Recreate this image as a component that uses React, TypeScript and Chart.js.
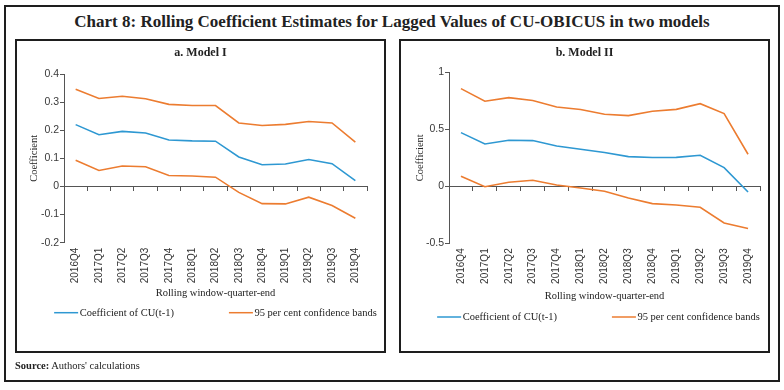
import React, { useEffect, useRef } from "react";
import { Chart, registerables } from "chart.js";
Chart.register(...registerables);

const quarters = [
  "2016Q4", "2017Q1", "2017Q2", "2017Q3", "2017Q4", "2018Q1", "2018Q2",
  "2018Q3", "2018Q4", "2019Q1", "2019Q2", "2019Q3", "2019Q4",
];

const model1Coef = [0.22, 0.184, 0.196, 0.19, 0.165, 0.162, 0.161, 0.105, 0.077, 0.08, 0.096, 0.081, 0.021];
const model1Upper = [0.346, 0.313, 0.321, 0.312, 0.292, 0.288, 0.288, 0.226, 0.217, 0.221, 0.231, 0.226, 0.158];
const model1Lower = [0.093, 0.057, 0.073, 0.07, 0.039, 0.037, 0.033, -0.021, -0.061, -0.062, -0.038, -0.068, -0.113];

const model2Coef = [0.471, 0.371, 0.404, 0.401, 0.354, 0.325, 0.296, 0.26, 0.252, 0.254, 0.272, 0.164, -0.05];
const model2Upper = [0.857, 0.746, 0.778, 0.752, 0.696, 0.673, 0.632, 0.62, 0.658, 0.675, 0.725, 0.638, 0.281];
const model2Lower = [0.088, -0.004, 0.035, 0.053, 0.011, -0.015, -0.044, -0.103, -0.152, -0.164, -0.184, -0.322, -0.371];

const model1Axis = { min: -0.2, max: 0.4, step: 0.1 };
const model2Axis = { min: -0.5, max: 1, step: 0.5 };

const coefLabel = "Coefficient of CU(t-1)";
const bandLabel = "95 per cent confidence bands";
const xTitle = "Rolling window-quarter-end";
const yTitle = "Coefficient";

const BLUE = "#2E98D2";
const ORANGE = "#EC7C30";
const SERIF = '"Liberation Serif", "Times New Roman", serif';
const SANS = '"Liberation Sans Narrow", "Liberation Sans", Arial, sans-serif';
const YSANS = '"Liberation Sans", Arial, sans-serif';

const lineLegend = {
  id: "lineLegend",
  afterDraw(chart: any, _args: any, opts: any) {
    const { ctx, chartArea } = chart;
    const items = chart.data.datasets
      .filter((d: any) => d.inLegend)
      .map((d: any) => ({ text: d.label, color: d.borderColor }));
    ctx.save();
    ctx.font = `${opts.fontSize}px ${SERIF}`;
    const widths = items.map((it: any) => opts.lineLen + opts.lineGap + ctx.measureText(it.text).width);
    const total = widths.reduce((a: number, b: number) => a + b, 0) + opts.gap * (items.length - 1);
    let x = (chartArea.left + chartArea.right) / 2 - total / 2 + (opts.shift || 0);
    const y = opts.y;
    items.forEach((it: any, i: number) => {
      ctx.strokeStyle = it.color;
      ctx.lineWidth = 1.5;
      ctx.beginPath();
      ctx.moveTo(x, y);
      ctx.lineTo(x + opts.lineLen, y);
      ctx.stroke();
      ctx.fillStyle = "#222";
      ctx.textBaseline = "middle";
      ctx.textAlign = "left";
      ctx.fillText(it.text, x + opts.lineLen + opts.lineGap, y + 0.5);
      x += widths[i] + opts.gap;
    });
    ctx.restore();
  },
};

type PanelProps = {
  coef: number[];
  upper: number[];
  lower: number[];
  axis: { min: number; max: number; step: number };
  w: number;
  h: number;
  left: number;
  right: number;
  top: number;
  bottom: number;
  yTitleX: number;
  xTitleY: number;
  legendY: number;
  legendShift: number;
};

function Panel(p: PanelProps) {
  const ref = useRef<HTMLCanvasElement | null>(null);
  useEffect(() => {
    if (!ref.current) return;
    const titleSize = 10.5;
    const lh = titleSize * 1.2;
    const xH = p.xTitleY - p.bottom + lh / 2;
    const chart = new Chart(ref.current, {
      type: "line",
      data: {
        labels: quarters,
        datasets: [
          { label: coefLabel, data: p.coef, borderColor: BLUE, inLegend: true } as any,
          { label: bandLabel, data: p.upper, borderColor: ORANGE, inLegend: true } as any,
          { label: bandLabel, data: p.lower, borderColor: ORANGE, inLegend: false } as any,
        ].map((d) => ({ ...d, borderWidth: 1.6, pointRadius: 0, tension: 0, fill: false, xAxisID: "x", yAxisID: "y" })),
      },
      options: {
        animation: false,
        responsive: false,
        maintainAspectRatio: false,
        events: [],
        layout: {
          padding: { left: 0, top: p.top, right: p.w - p.right, bottom: p.h - p.bottom - xH },
        },
        plugins: {
          legend: { display: false },
          tooltip: { enabled: false },
          lineLegend: { y: p.legendY, fontSize: 10.5, lineLen: 24, lineGap: 1.5, gap: 55, shift: p.legendShift },
        } as any,
        scales: {
          x: {
            type: "category",
            position: "bottom",
            offset: true,
            grid: { display: false, drawTicks: false },
            border: { display: false },
            ticks: {
              autoSkip: false,
              minRotation: 90,
              maxRotation: 90,
              padding: 5,
              color: "#333",
              font: { family: SANS, size: 10 },
            },
            title: {
              display: true,
              text: xTitle,
              color: "#222",
              padding: { top: 0, bottom: 0 },
              font: { family: SERIF, size: titleSize, lineHeight: 1.2 },
            },
            afterFit: (s: any) => {
              s.height = xH;
            },
          },
          x2: {
            type: "category",
            position: { y: 0 } as any,
            offset: true,
            grid: { display: true, drawOnChartArea: false, drawTicks: true, tickLength: 4, offset: true, color: "#555", lineWidth: 1 },
            border: { display: true, color: "#555", width: 1 },
            ticks: { display: false },
            afterFit: (s: any) => {
              s.height = 0;
            },
          },
          y: {
            type: "linear",
            min: p.axis.min,
            max: p.axis.max,
            grid: { display: true, drawOnChartArea: false, drawTicks: true, tickLength: 4, color: "#555", lineWidth: 1 },
            border: { display: true, color: "#555", width: 1 },
            ticks: {
              stepSize: p.axis.step,
              padding: 1,
              color: "#3a3a3a",
              font: { family: YSANS, size: 10.5 },
              callback: (v: any) => String(Number(Number(v).toFixed(2))),
            },
            title: {
              display: true,
              text: yTitle,
              color: "#222",
              padding: { top: p.yTitleX - lh / 2, bottom: 0 },
              font: { family: SERIF, size: titleSize, lineHeight: 1.2 },
            },
            afterFit: (s: any) => {
              s.width = p.left;
            },
          },
        } as any,
      },
      plugins: [lineLegend],
    });
    return () => chart.destroy();
  }, []);
  return <canvas ref={ref} width={p.w} height={p.h} style={{ width: p.w, height: p.h, display: "block" }} />;
}

export default function App() {
  const abs = (l: number, t: number, w: number, h: number): React.CSSProperties => ({
    position: "absolute",
    left: l,
    top: t,
    width: w,
    height: h,
  });
  return (
    <div style={{ ...abs(0, 0, 784, 390), background: "#fff", fontFamily: SERIF, color: "#222" }}>
      <div style={{ ...abs(4, 5, 776, 377), border: "2px solid #1e1e1e", boxSizing: "border-box" }} />
      <div style={{ ...abs(0, 12, 784, 20), textAlign: "center", fontSize: 17, fontWeight: "bold", lineHeight: "20px" }}>
        Chart 8: Rolling Coefficient Estimates for Lagged Values of CU-OBICUS in two models
      </div>

      <div style={abs(16, 40, 369, 312)}>
        <Panel coef={model1Coef} upper={model1Upper} lower={model1Lower} axis={model1Axis}
          w={369} h={312} left={48} right={351} top={34} bottom={202.7}
          yTitleX={18} xTitleY={253} legendY={272.7} legendShift={0} />
      </div>
      <div style={{ ...abs(15, 39, 371, 314), border: "2px solid #1e1e1e", boxSizing: "border-box" }} />
      <div style={{ ...abs(16, 44, 369, 16), textAlign: "center", fontSize: 12, fontWeight: "bold", lineHeight: "16px" }}>
        a. Model I
      </div>

      <div style={abs(400, 40, 369, 312)}>
        <Panel coef={model2Coef} upper={model2Upper} lower={model2Lower} axis={model2Axis}
          w={369} h={312} left={49} right={360} top={32.3} bottom={203.3}
          yTitleX={20} xTitleY={256.7} legendY={277} legendShift={-6} />
      </div>
      <div style={{ ...abs(399, 39, 371, 314), border: "2px solid #1e1e1e", boxSizing: "border-box" }} />
      <div style={{ ...abs(400, 44, 369, 16), textAlign: "center", fontSize: 12, fontWeight: "bold", lineHeight: "16px" }}>
        b. Model II
      </div>

      <div style={{ ...abs(15, 358, 400, 16), fontSize: 10.5, lineHeight: "16px" }}>
        <b>Source:</b> Authors' calculations
      </div>
    </div>
  );
}
